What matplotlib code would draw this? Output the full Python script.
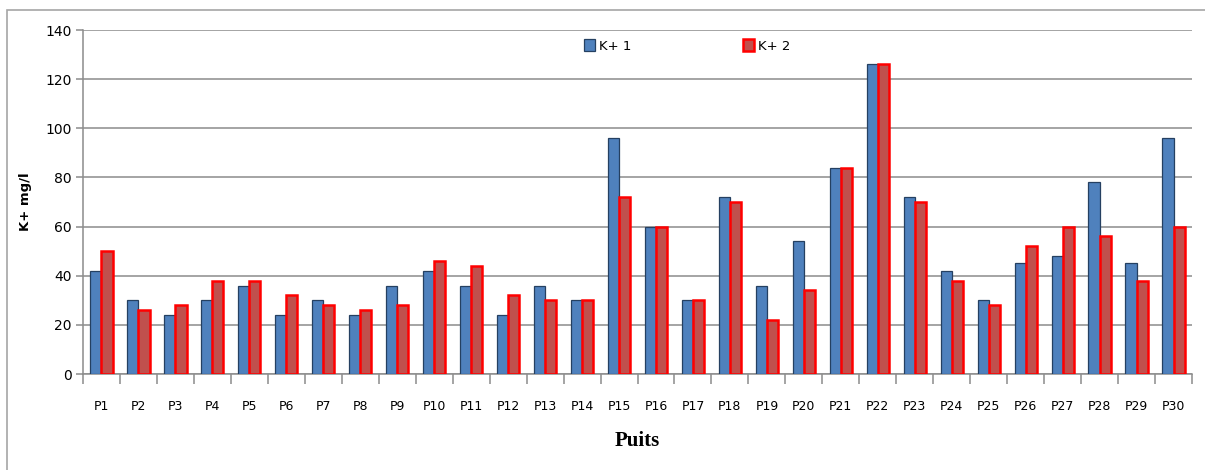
import numpy as np
import matplotlib.pyplot as plt
from matplotlib.patches import Rectangle

puits = ["P%d" % i for i in range(1, 31)]
k1 = [42, 30, 24, 30, 36, 24, 30, 24, 36, 42, 36, 24, 36, 30, 96,
      60, 30, 72, 36, 54, 84, 126, 72, 42, 30, 45, 48, 78, 45, 96]
k2 = [50, 26, 28, 38, 38, 32, 28, 26, 28, 46, 44, 32, 30, 30, 72,
      60, 30, 70, 22, 34, 84, 126, 70, 38, 28, 52, 60, 56, 38, 60]
yticks = [0, 20, 40, 60, 80, 100, 120, 140]

plt.rcParams['font.family'] = ['DejaVu Sans']

fig = plt.figure(figsize=(12.05, 4.7), dpi=100)
ax = fig.add_axes([83 / 1205, 1 - 374 / 470, 1109 / 1205, 344 / 470])

# outer chart frame, cut off at right and bottom like the screenshot
fig.patches.append(Rectangle((7 / 1205, -0.05), 1.1, 1 - 10 / 470 + 0.05,
                             transform=fig.transFigure, fill=False,
                             edgecolor='#a6a6a6', linewidth=1.2))

x = np.arange(len(puits))
w = 0.3
ax.bar(x - w / 2, k1, w, color='#4f81bd', edgecolor='#254061', linewidth=0.9,
       label='K+ 1', zorder=3)
ax.bar(x + w / 2, k2, w, color='#c0504d', edgecolor='#ff0000', linewidth=1.8,
       label='K+ 2', zorder=3)

ax.set_xlim(-0.5, len(puits) - 0.5)
ax.set_ylim(0, 140)
ax.set_yticks(yticks)
ax.grid(axis='y', color='#8c8c8c', linewidth=1.1, zorder=0)

ax.set_xticks(x)
ax.set_xticklabels(puits, fontsize=9)
ax.set_xticks(np.arange(-0.5, len(puits)), minor=True)
ax.tick_params(axis='x', which='major', length=0, pad=19)
ax.tick_params(axis='x', which='minor', length=7, color='#8c8c8c', width=1.1)
ax.tick_params(axis='y', length=5, color='#8c8c8c', width=1.1, labelsize=10,
               pad=3)

for s in ['top', 'right']:
    ax.spines[s].set_visible(False)
for s in ['left', 'bottom']:
    ax.spines[s].set_color('#8c8c8c')
    ax.spines[s].set_linewidth(1.1)

ax.set_ylabel('K+ mg/l', fontsize=9.5, fontweight='bold', labelpad=10)
ax.set_xlabel('Puits', fontsize=15, fontweight='bold', family='Liberation Serif',
              labelpad=13)

ax.legend(loc='center', bbox_to_anchor=(0.545, 0.953), ncol=2, frameon=False,
          fontsize=9.5, columnspacing=8.5, handlelength=0.8, handleheight=1.0,
          handletextpad=0.3)

fig.savefig('out.png', dpi=100)
